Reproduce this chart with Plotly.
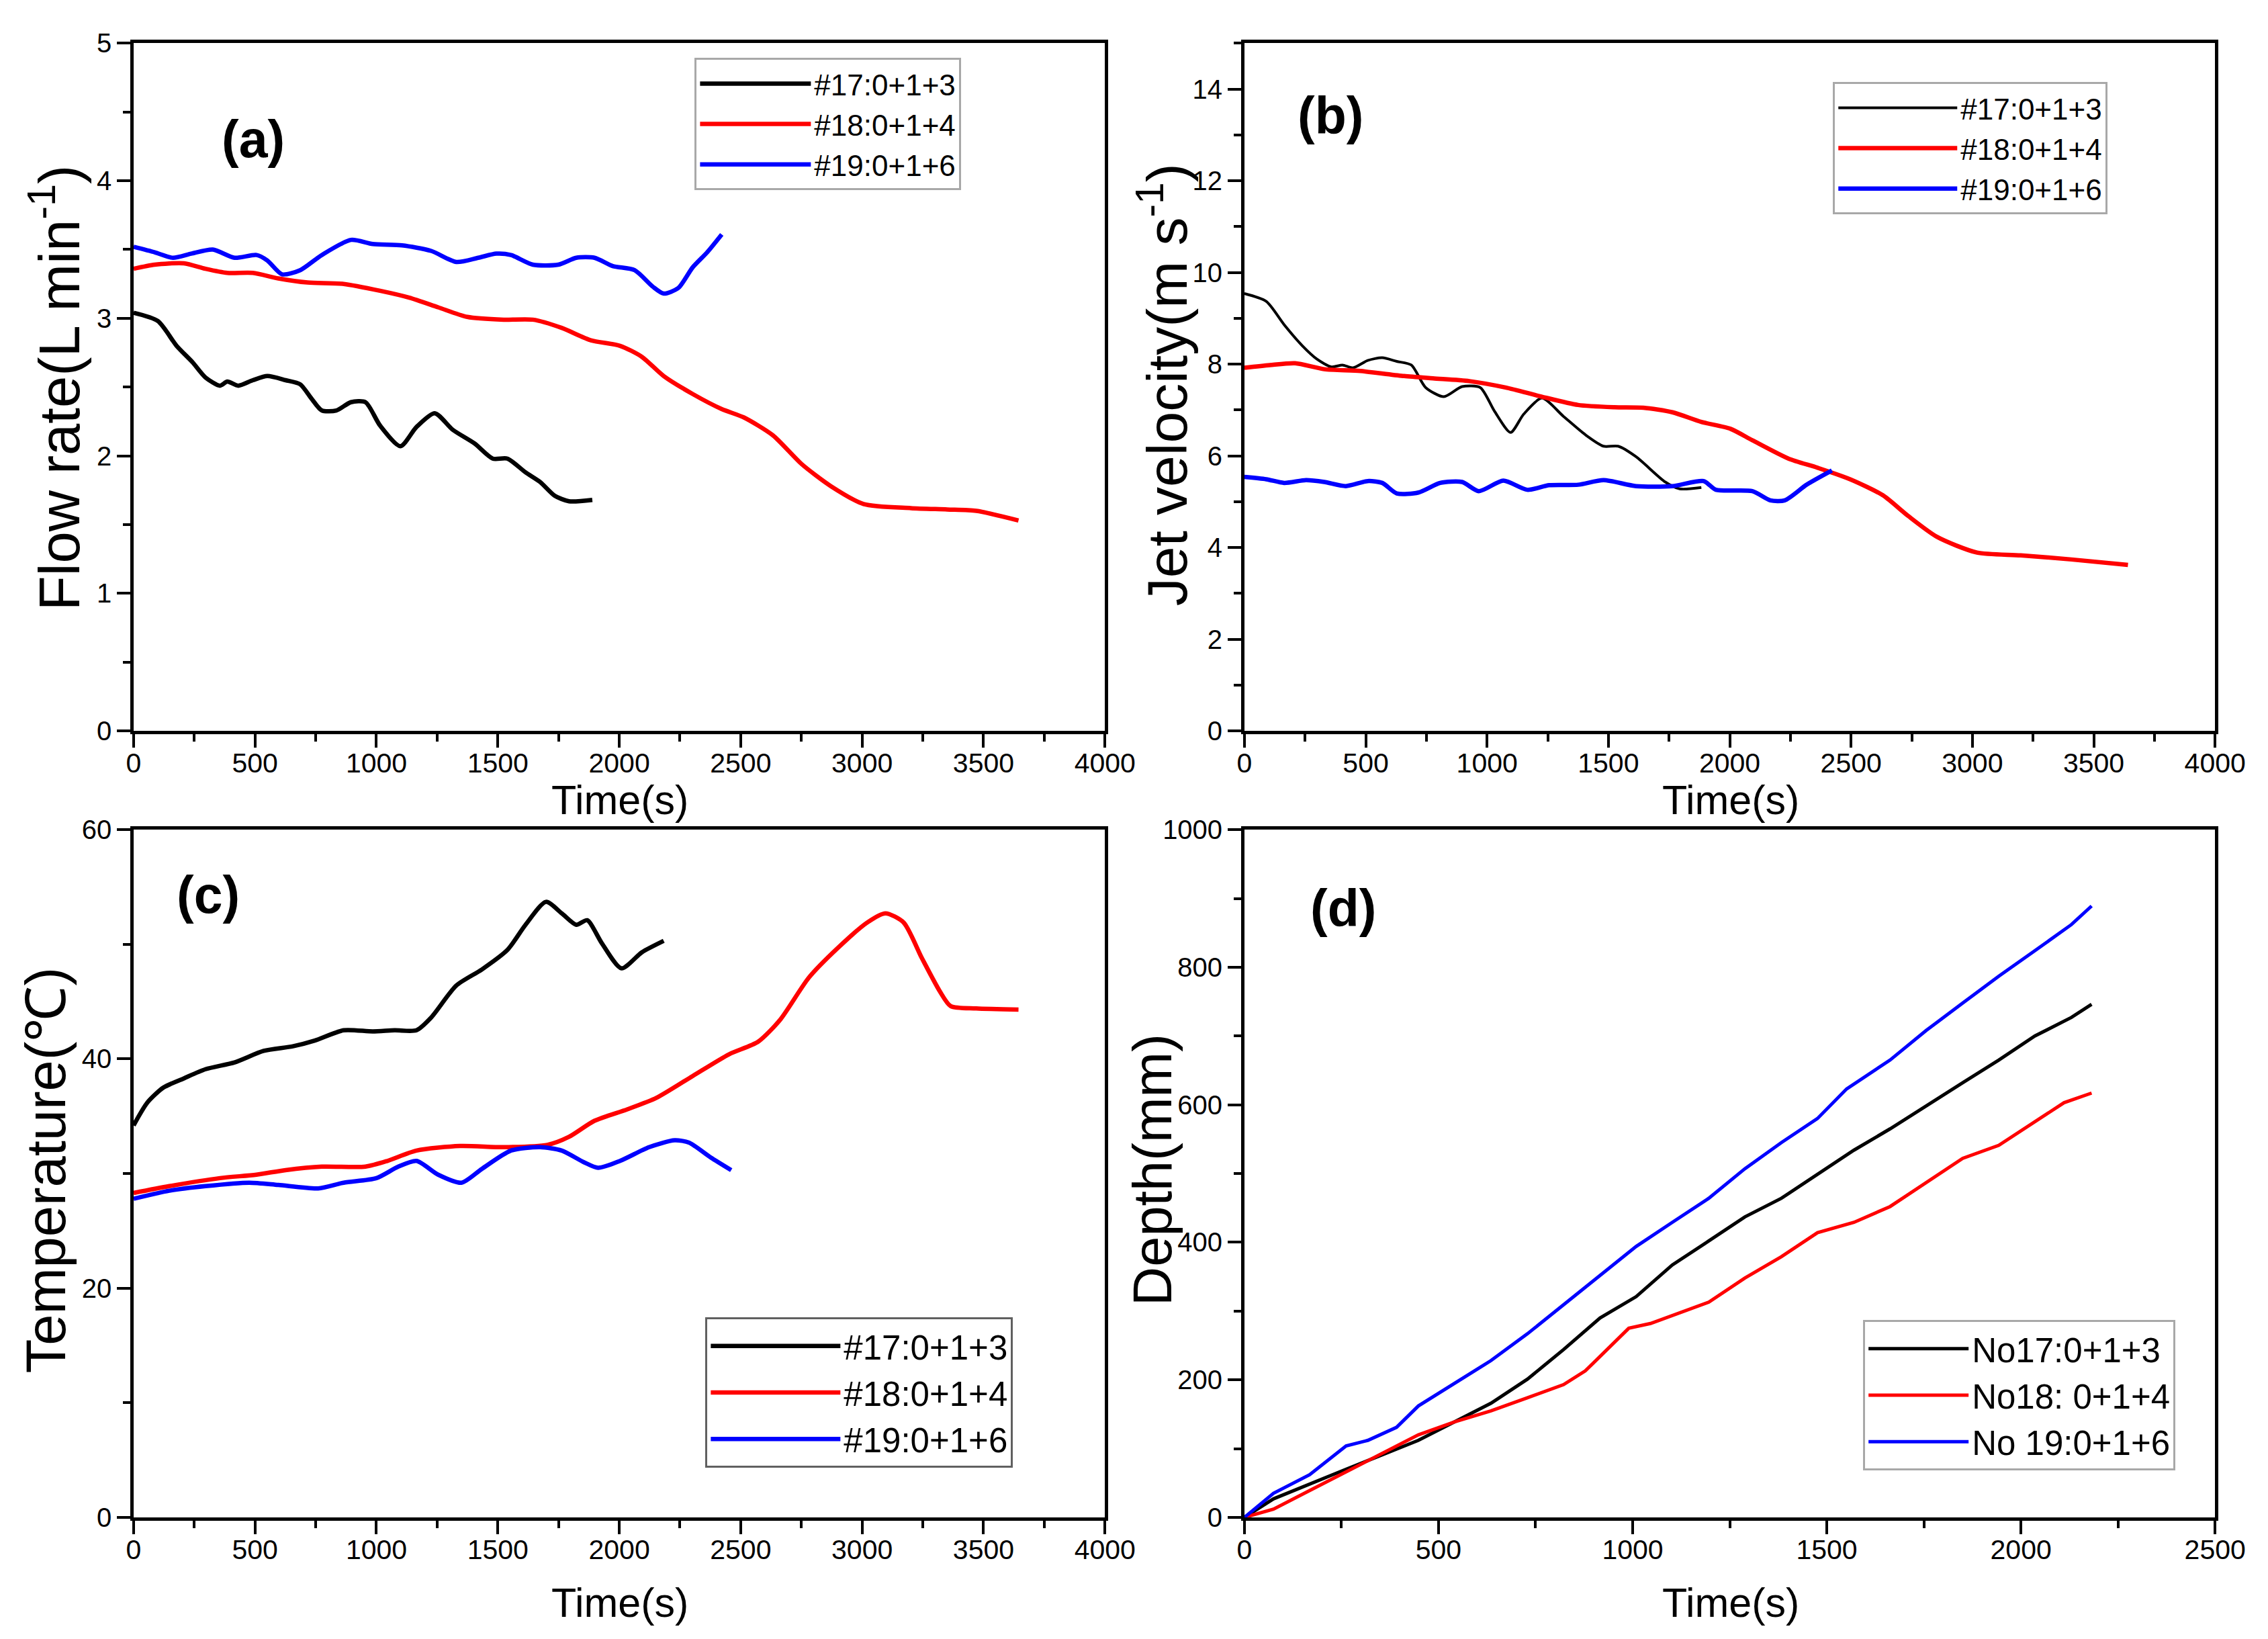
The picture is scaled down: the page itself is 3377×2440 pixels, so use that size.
import plotly.graph_objects as go

# ---------------- data ----------------
# (a) Flow rate (L/min)
a17_t = [0,100,177,243,296,356,386,431,491,551,626,686,731,775,835,895,955,1015,1099,1165,1240,1314,1404,1479,1539,1614,1674,1734,1793,1889]
a17_v = [3.04,2.98,2.80,2.68,2.57,2.51,2.54,2.51,2.55,2.58,2.55,2.52,2.42,2.33,2.33,2.39,2.39,2.22,2.07,2.21,2.31,2.19,2.09,1.98,1.98,1.88,1.81,1.71,1.67,1.68]
a18_t = [0,87,207,296,386,491,596,716,865,1015,1135,1254,1374,1524,1644,1763,1883,2003,2093,2183,2302,2422,2512,2632,2751,2871,3006,3201,3350,3470,3644]
a18_v = [3.36,3.39,3.40,3.36,3.33,3.33,3.29,3.26,3.25,3.20,3.15,3.08,3.01,2.99,2.99,2.93,2.84,2.80,2.72,2.58,2.45,2.34,2.28,2.15,1.94,1.78,1.65,1.62,1.61,1.60,1.53]
a19_t = [0,87,162,237,326,416,506,551,611,686,775,895,985,1105,1225,1329,1419,1494,1554,1644,1749,1823,1898,1973,2063,2138,2183,2243,2302,2362,2422]
a19_v = [3.52,3.48,3.44,3.47,3.50,3.44,3.46,3.42,3.32,3.35,3.46,3.57,3.54,3.53,3.49,3.41,3.44,3.47,3.46,3.39,3.39,3.44,3.44,3.38,3.35,3.23,3.18,3.22,3.37,3.48,3.61]

# (b) Jet velocity (m/s)
b17_t = [0,90,164,239,299,359,404,448,508,568,628,688,747,822,897,972,1031,1097,1151,1226,1315,1405,1480,1540,1614,1734,1794,1883]
b17_v = [9.54,9.37,8.86,8.40,8.11,7.94,7.98,7.92,8.08,8.14,8.06,7.98,7.49,7.29,7.51,7.49,6.97,6.51,6.91,7.26,6.86,6.46,6.21,6.21,5.98,5.43,5.28,5.31]
b18_t = [0,105,209,329,478,658,777,927,1076,1226,1375,1525,1644,1764,1883,2003,2093,2242,2362,2496,2631,2735,2855,3019,3199,3408,3641]
b18_v = [7.92,7.98,8.02,7.89,7.85,7.74,7.69,7.63,7.49,7.29,7.11,7.06,7.05,6.95,6.74,6.59,6.34,5.94,5.74,5.49,5.14,4.69,4.23,3.89,3.83,3.74,3.62]
b19_t = [0,90,164,254,329,418,508,568,628,717,807,897,966,1067,1166,1256,1375,1480,1614,1764,1892,1943,2093,2167,2227,2317,2421]
b19_v = [5.54,5.49,5.41,5.47,5.43,5.34,5.45,5.41,5.18,5.20,5.41,5.43,5.23,5.46,5.26,5.36,5.37,5.47,5.34,5.34,5.45,5.26,5.23,5.03,5.03,5.37,5.68]

# (c) Temperature (deg C)
c17_t = [0,57,123,207,296,416,536,656,746,865,985,1075,1165,1225,1329,1434,1539,1614,1698,1763,1823,1868,1928,2009,2093,2183]
c17_v = [34.2,36.2,37.5,38.3,39.1,39.7,40.7,41.1,41.6,42.5,42.4,42.5,42.5,43.6,46.4,47.8,49.5,51.7,53.7,52.7,51.7,52.1,50.1,47.9,49.3,50.3]
c18_t = [0,147,356,506,626,775,955,1045,1165,1344,1524,1704,1793,1898,2033,2153,2302,2452,2572,2662,2781,2901,3021,3096,3171,3246,3320,3365,3470,3644]
c18_v = [28.3,28.9,29.6,29.9,30.3,30.6,30.6,31.1,32.0,32.4,32.3,32.5,33.2,34.6,35.6,36.6,38.5,40.4,41.5,43.4,47.1,49.7,51.9,52.7,51.9,48.8,45.9,44.6,44.4,44.3]
c19_t = [0,147,296,476,596,760,865,1000,1090,1165,1254,1350,1434,1554,1674,1763,1853,1913,2003,2123,2228,2287,2377,2461]
c19_v = [27.8,28.5,28.9,29.2,29.0,28.7,29.2,29.6,30.6,31.1,29.9,29.2,30.4,32.0,32.3,32.0,31.0,30.5,31.1,32.3,32.9,32.7,31.4,30.3]

# (d) Depth (mm)
d17_t = [0,75,262,448,635,729,822,916,1009,1102,1196,1289,1383,1476,1570,1663,1756,1850,1943,2036,2130,2182]
d17_v = [0,27,70,112,166,201,244,290,321,367,402,437,464,499,534,565,599,632,665,700,727,746]
d18_t = [0,75,168,262,355,448,542,635,729,822,878,934,990,1046,1121,1196,1289,1383,1476,1570,1663,1756,1850,1943,2036,2111,2182]
d18_v = [0,12,39,66,93,120,139,155,174,193,213,244,275,282,298,313,348,379,414,429,452,487,522,541,576,603,617]
d19_t = [0,75,168,262,318,392,448,505,635,729,822,916,1009,1102,1196,1289,1383,1476,1551,1663,1756,1850,1943,2036,2130,2182]
d19_v = [0,35,62,104,112,131,162,182,228,267,309,352,394,429,464,507,545,580,623,665,708,748,787,824,862,889]

names_hash = ["#17:0+1+3", "#18:0+1+4", "#19:0+1+6"]
names_no = ["No17:0+1+3", "No18: 0+1+4", "No 19:0+1+6"]
colors = ["#000000", "#ff0000", "#0000ff"]

W, H = 3377, 2440
NARROW = "Liberation Sans Narrow, Arial Narrow, Liberation Sans, Arial, sans-serif"
SANS = "Liberation Sans, Arial, sans-serif"

# layout helpers: positions measured on the reference (pixels) -> paper fractions
def px(r):
    return (1.0153 * r - 16.0) / W

def py(r):
    return 1 - (1.0182 * r - 29.2) / H

FS = 1.017  # font scale

fig = go.Figure()

def add(t, v, name, color, width, xa, ya, legend, shape="spline"):
    fig.add_trace(go.Scatter(
        x=t, y=v, mode="lines", name=name, legend=legend,
        line=dict(color=color, width=width, shape=shape,
                  smoothing=0.7 if shape == "spline" else None),
        xaxis=xa, yaxis=ya))

add(a17_t, a17_v, names_hash[0], colors[0], 6.5, "x", "y", "legend")
add(a18_t, a18_v, names_hash[1], colors[1], 6.5, "x", "y", "legend")
add(a19_t, a19_v, names_hash[2], colors[2], 6.5, "x", "y", "legend")

add(b17_t, b17_v, names_hash[0], colors[0], 4, "x2", "y2", "legend2")
add(b18_t, b18_v, names_hash[1], colors[1], 6.5, "x2", "y2", "legend2")
add(b19_t, b19_v, names_hash[2], colors[2], 6.5, "x2", "y2", "legend2")

add(c17_t, c17_v, names_hash[0], colors[0], 6.5, "x3", "y3", "legend3")
add(c18_t, c18_v, names_hash[1], colors[1], 6.5, "x3", "y3", "legend3")
add(c19_t, c19_v, names_hash[2], colors[2], 6.5, "x3", "y3", "legend3")

add(d17_t, d17_v, names_no[0], colors[0], 5, "x4", "y4", "legend4", "linear")
add(d18_t, d18_v, names_no[1], colors[1], 5, "x4", "y4", "legend4", "linear")
add(d19_t, d19_v, names_no[2], colors[2], 5, "x4", "y4", "legend4", "linear")

XL = [px(196), px(1645)]
XR = [px(1853), px(3301)]
YT = [py(1087), py(63)]
YB = [py(2258), py(1234)]

def ax(domain, anchor, rng, dtick, mdtick, is_x):
    d = dict(domain=domain, anchor=anchor, range=rng, dtick=dtick, tick0=0,
             showline=True, linecolor="black", linewidth=4.5, mirror=True,
             ticks="outside", ticklen=20, tickwidth=3.5, tickcolor="black",
             minor=dict(ticks="outside", ticklen=11, tickwidth=3.5, dtick=mdtick, tick0=0, tickcolor="black"),
             showgrid=False, zeroline=False,
             tickfont=dict(family=NARROW, size=round((40 if is_x else 39) * FS), color="black"),
             fixedrange=True)
    if is_x:
        d["ticklabelstandoff"] = -12
    return d

fig.update_layout(
    width=W, height=H, autosize=False,
    margin=dict(l=0, r=0, t=0, b=0),
    paper_bgcolor="white", plot_bgcolor="white",
    xaxis=ax(XL, "y", [0, 4000], 500, 250, True),
    yaxis=ax(YT, "x", [0, 5], 1, 0.5, False),
    xaxis2=ax(XR, "y2", [0, 4000], 500, 250, True),
    yaxis2=ax(YT, "x2", [0, 15], 2, 1, False),
    xaxis3=ax(XL, "y3", [0, 4000], 500, 250, True),
    yaxis3=ax(YB, "x3", [0, 60], 20, 10, False),
    xaxis4=ax(XR, "y4", [0, 2500], 500, 250, True),
    yaxis4=ax(YB, "x4", [0, 1000], 200, 100, False),
)

def leg(x, y, size, bc, iw):
    return dict(x=px(x), y=py(y), xanchor="left", yanchor="top", bgcolor="white",
                bordercolor=bc, borderwidth=3,
                font=dict(family=NARROW, size=size, color="black"),
                itemwidth=iw, tracegroupgap=0)

fig.update_layout(
    legend=leg(1033, 85, 44, "#a8a8a8", 165),
    legend2=leg(2731, 121, 44, "#a8a8a8", 177),
    legend3=leg(1049, 1960, 51, "#606060", 193),
    legend4=leg(2776, 1964, 51, "#a8a8a8", 149),
)

ann = []
def text(x, y, s, size, family=SANS, bold=False, angle=0):
    ann.append(dict(x=px(x), y=py(y), xref="paper", yref="paper", xanchor="center", yanchor="middle",
                    text=("<b>%s</b>" % s) if bold else s, showarrow=False, textangle=angle,
                    font=dict(family=family, size=round(size * FS), color="black")))

# panel labels
text(374, 206, "(a)", 76, bold=True)
text(1981, 171, "(b)", 76, bold=True)
text(307, 1331, "(c)", 76, bold=True)
text(2000, 1351, "(d)", 76, bold=True)

# x titles
text(921, 1190, "Time(s)", 60, NARROW)
text(2578, 1190, "Time(s)", 60, NARROW)
text(921, 2385, "Time(s)", 60, NARROW)
text(2578, 2385, "Time(s)", 60, NARROW)

# y titles
text(79, 576, "Flow rate(L min<sup>-1</sup>)", 84, angle=-90)
text(1732, 572, "Jet velocity(m s<sup>-1</sup>)", 83, angle=-90)
text(65, 1741, "Temperature(℃)", 82, angle=-90)
text(1716, 1741, "Depth(mm)", 80, angle=-90)

fig.update_layout(annotations=ann)

fig.write_html("out.html")
